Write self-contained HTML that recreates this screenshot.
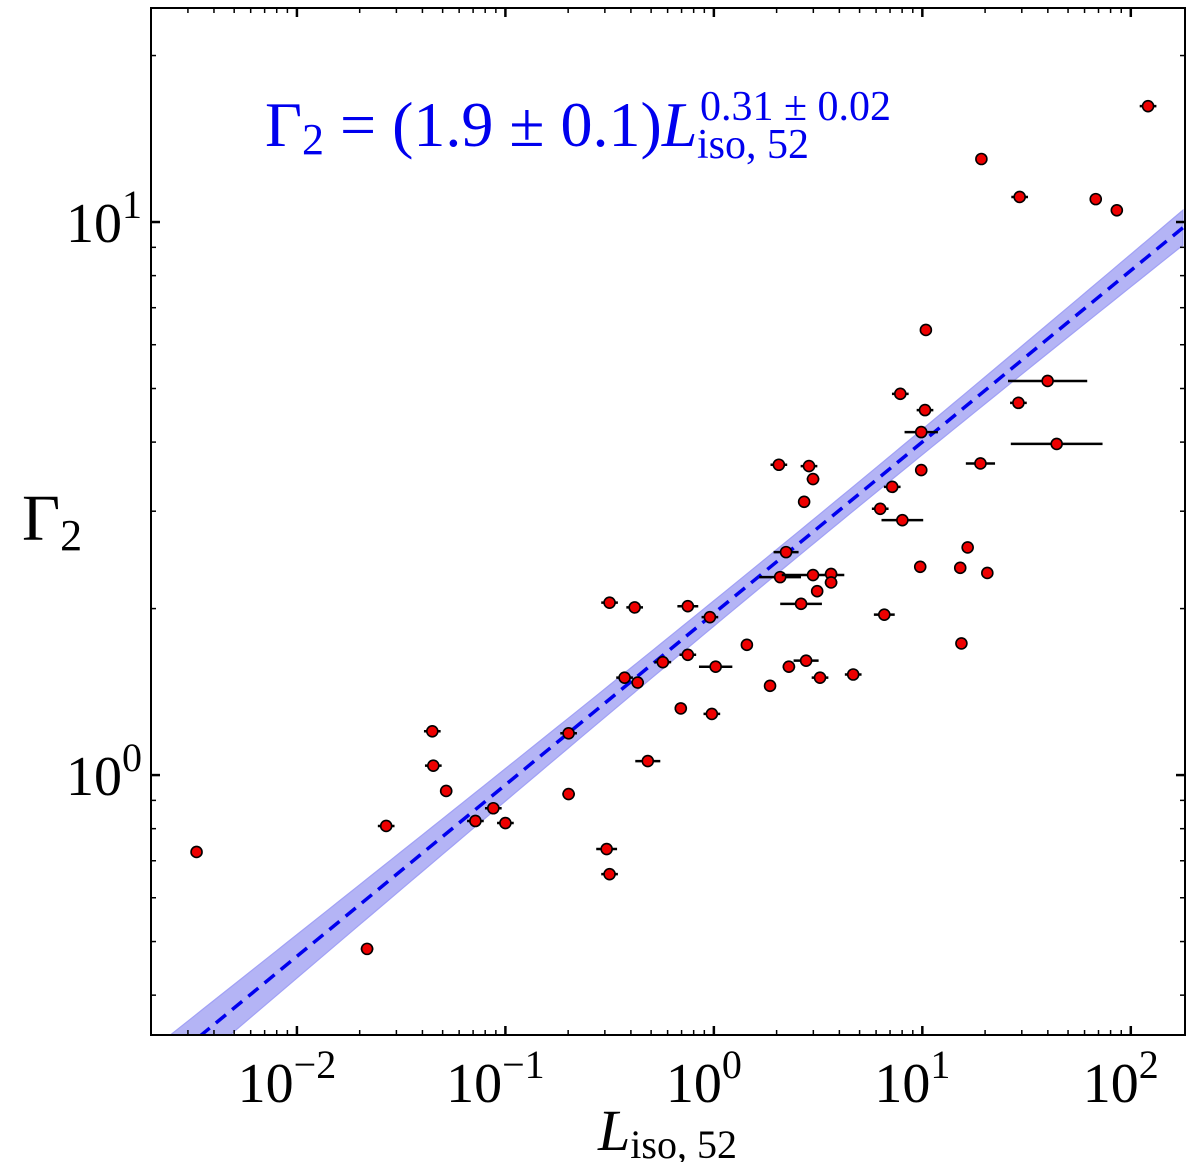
<!DOCTYPE html>
<html><head><meta charset="utf-8"><style>
body{margin:0;background:#fff}
svg{display:block}
text{font-family:"Liberation Serif","DejaVu Serif",serif}
</style></head><body>
<svg id="chart" width="1200" height="1162"></svg>
<script>
const lumValues=[0.0033,0.0217,0.0268,0.0446,0.0451,0.052,0.0718,0.0875,0.1,0.201,0.201,0.306,0.316,0.316,0.417,0.373,0.431,0.482,0.569,0.694,0.75,0.75,0.957,0.978,1.02,1.44,1.86,2.05,2.08,2.22,2.29,2.62,2.71,2.77,2.86,2.99,2.99,3.13,3.23,3.65,3.65,4.66,6.28,6.57,7.17,8.02,7.84,9.77,9.88,9.88,10.3,10.4,15.2,15.4,16.5,19.0,19.2,20.5,28.9,29.3,39.9,44.1,67.9,85.7,121];
const gammaValues=[0.726,0.485,0.809,1.20,1.04,0.936,0.826,0.871,0.819,1.19,0.924,0.735,0.662,2.05,2.01,1.50,1.47,1.06,1.60,1.32,2.02,1.65,1.93,1.29,1.57,1.72,1.45,3.64,2.28,2.53,1.57,2.04,3.12,1.61,3.62,3.43,2.30,2.15,1.50,2.31,2.23,1.52,3.03,1.95,3.32,2.89,4.89,2.38,3.56,4.17,4.57,6.38,2.37,1.73,2.58,3.66,13.0,2.32,4.71,11.1,5.16,3.97,11.0,10.5,16.2];
const lumErrDex=[0.02,0.03,0.04,0.04,0.04,0.03,0.04,0.04,0.04,0.04,0.03,0.05,0.04,0.04,0.04,0.04,0.03,0.06,0.04,0.03,0.05,0.04,0.04,0.04,0.08,0.02,0.02,0.04,0.1,0.06,0.03,0.1,0.02,0.06,0.04,0.03,0.15,0.02,0.04,0.03,0.03,0.04,0.04,0.05,0.04,0.1,0.04,0.02,0.03,0.08,0.04,0.02,0.02,0.02,0.02,0.07,0.02,0.02,0.04,0.04,0.19,0.22,0.02,0.02,0.04];
const fitNorm=1.96, fitSlope=0.31;
const xTickExps=[-2,-1,0,1,2];
const yTickExps=[0,1];

const L=151,R=1185,T=8,B=1035;
const xMin=-2.70,xMax=2.26,yMin=-0.470,yMax=1.387;
const X=v=>L+(Math.log10(v)-xMin)/(xMax-xMin)*(R-L);
const XL=lg=>L+(lg-xMin)/(xMax-xMin)*(R-L);
const Y=v=>B-(Math.log10(v)-yMin)/(yMax-yMin)*(B-T);
const YL=lg=>B-(lg-yMin)/(yMax-yMin)*(B-T);
const svg=document.getElementById('chart');
const NS='http://www.w3.org/2000/svg';
function mk(t,a,p){const e=document.createElementNS(NS,t);for(const k in a)e.setAttribute(k,a[k]);(p||svg).appendChild(e);return e;}

const defs=mk('defs',{});const cp=mk('clipPath',{id:'pc'},defs);mk('rect',{x:L,y:T,width:R-L,height:B-T},cp);
const plot=mk('g',{'clip-path':'url(#pc)'});



let up=[],dn=[];
for(let lg=xMin;lg<=xMax+0.01;lg+=0.05){
  const c=Math.log10(fitNorm)+fitSlope*lg;
  const h=Math.sqrt(0.022*0.022+Math.pow(0.013*(lg-0.5),2));
  up.push(XL(lg)+','+YL(c+h));dn.unshift(XL(lg)+','+YL(c-h));
}
const band=mk('polygon',{points:up.concat(dn).join(' '),fill:'#7777ee',opacity:0.55,stroke:'#5555ee','stroke-width':1.2},plot);


const fl=mk('line',{x1:XL(xMin),y1:YL(Math.log10(fitNorm)+fitSlope*xMin),x2:XL(xMax),y2:YL(Math.log10(fitNorm)+fitSlope*xMax),stroke:'#0000ee','stroke-width':3.5,'stroke-dasharray':'13,8'},plot);



for(let i=0;i<lumValues.length;i++){
  const lg=Math.log10(lumValues[i]),y=Y(gammaValues[i]);
  const eb=mk('line',{x1:XL(lg-lumErrDex[i]),x2:XL(lg+lumErrDex[i]),y1:y,y2:y,stroke:'#000','stroke-width':2.5},plot);
  
  
  const c=mk('circle',{cx:X(lumValues[i]),cy:y,r:5.5,fill:'#ee0000',stroke:'#000','stroke-width':1.6},plot);
  
  
}

const fr=mk('rect',{x:L,y:T,width:R-L,height:B-T,fill:'none',stroke:'#000','stroke-width':2});


for(let e=-3;e<=2;e++){
  for(let m=1;m<10;m++){
    const lg=e+Math.log10(m);if(lg<xMin||lg>xMax)continue;
    const len=m==1?9:5,x=XL(lg);
    mk('line',{x1:x,x2:x,y1:B,y2:B-len,stroke:'#000','stroke-width':m==1?2.5:1.5});
    mk('line',{x1:x,x2:x,y1:T,y2:T+len,stroke:'#000','stroke-width':m==1?2.5:1.5});
  }
}
xTickExps.forEach(e=>{
  const t=mk('text',{x:XL(e)-10,y:1102,'font-size':56,'text-anchor':'middle'});
  t.innerHTML='10<tspan dy="-24" font-size="40">'+(e<0?'\u2212'+(-e):e)+'</tspan>';
  
  
});
for(let e=-1;e<=1;e++){
  for(let m=1;m<10;m++){
    const lg=e+Math.log10(m);if(lg<yMin||lg>yMax)continue;
    const len=m==1?9:5,y=YL(lg);
    mk('line',{x1:L,x2:L+len,y1:y,y2:y,stroke:'#000','stroke-width':m==1?2.5:1.5});
    mk('line',{x1:R,x2:R-len,y1:y,y2:y,stroke:'#000','stroke-width':m==1?2.5:1.5});
  }
}
yTickExps.forEach(e=>{
  const t=mk('text',{x:66,y:YL(e)+20,'font-size':56});
  t.innerHTML='10<tspan dy="-24" font-size="40">'+e+'</tspan>';
  
  
});
const xl=mk('text',{x:598,y:1150,'font-size':58,'font-style':'italic'});
xl.innerHTML='L<tspan dy="8" font-size="40" font-style="normal">iso, 52</tspan>';


const yl=mk('text',{x:22,y:540,'font-size':66});
yl.innerHTML='Γ<tspan dy="10" font-size="44">2</tspan>';


const ann=mk('text',{x:265,y:146,'font-size':64,fill:'#0000ee'});
ann.innerHTML='Γ<tspan dy="8" font-size="44">2</tspan><tspan dy="-8"> = (1.9 ± 0.1)</tspan><tspan font-style="italic">L</tspan>';


const annSup=mk('text',{x:700,y:120,'font-size':42,fill:'#0000ee'});
annSup.textContent='0.31 ± 0.02';


const annSub=mk('text',{x:697,y:158,'font-size':42,fill:'#0000ee'});
annSub.textContent='iso, 52';


</script>
</body></html>
